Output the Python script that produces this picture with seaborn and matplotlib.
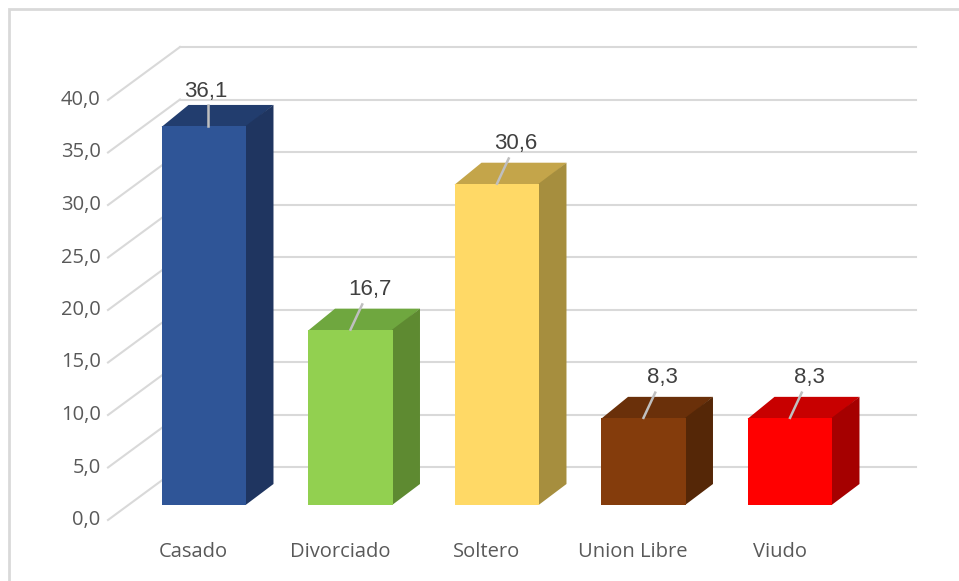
import numpy as np
import pandas as pd
import matplotlib.pyplot as plt
import seaborn as sns
from matplotlib.patches import Polygon, Rectangle

# datos
categorias = ["Casado", "Divorciado", "Soltero", "Union Libre", "Viudo"]
valores = [36.1, 16.7, 30.6, 8.3, 8.3]
etiquetas = ["36,1", "16,7", "30,6", "8,3", "8,3"]
ticks_y = [0, 5, 10, 15, 20, 25, 30, 35, 40]
ticks_lbl = ["0,0", "5,0", "10,0", "15,0", "20,0", "25,0", "30,0", "35,0", "40,0"]

# colores: frente, lado, tapa
frente = ["#2F5597", "#92D050", "#FFD966", "#843C0C", "#FF0000"]
lado = ["#1F3560", "#5E8A31", "#A68E3E", "#552707", "#A50000"]
tapa = ["#223D6E", "#6FA73F", "#C4A54A", "#6A300A", "#C80000"]

df = pd.DataFrame({"cat": categorias, "val": valores})

fig = plt.figure(figsize=(9.59, 5.81), dpi=100)
ax = fig.add_axes([0, 0, 1, 1])

# escala: 146.5 px por categoria, 10.5 px por unidad
px_x = 146.5
px_y = 10.5
ancho = 0.58
prof_x = 27 / px_x
prof_y = 21 / px_y

sns.barplot(data=df, x="cat", y="val", hue="cat", palette=frente, width=ancho,
            saturation=1, legend=False, ax=ax, zorder=3, linewidth=0)

# pared del fondo y lineas diagonales
pared_x0 = (108 - 204) / px_x
pared_x1 = (180 - 204) / px_x
pared_x2 = (916 - 204) / px_x
frente_off = -15 / px_y
fondo_off = 38 / px_y
gris = "#D9D9D9"
for t, lbl in zip(ticks_y, ticks_lbl):
    ax.plot([pared_x1, pared_x2], [t + fondo_off, t + fondo_off], color=gris, lw=1.5, zorder=1)
    ax.plot([pared_x0, pared_x1], [t + frente_off, t + fondo_off], color=gris, lw=1.5, zorder=1)
    ax.text(pared_x0 - 0.05, t + frente_off, lbl, ha="right", va="center",
            fontsize=14.5, color="#595959", family="Open Sans")

# caras 3D de cada barra
eps = 0.006
for i, v in enumerate(valores):
    x0 = i - ancho / 2
    x1 = i + ancho / 2
    ax.add_patch(Polygon([(x1 - eps, 0), (x1 + prof_x, prof_y), (x1 + prof_x, v + prof_y), (x1 - eps, v)],
                         closed=True, facecolor=lado[i], edgecolor="none", zorder=2.9))
    ax.add_patch(Polygon([(x0, v - 0.1), (x0 + prof_x, v + prof_y), (x1 + prof_x, v + prof_y), (x1, v - 0.1)],
                         closed=True, facecolor=tapa[i], edgecolor="none", zorder=2.8))
    # etiqueta y linea guia
    lx = i + 0.13
    ly = v + 3.8
    if ly > 39.5:
        lx, ly = i + 0.01, 39.4
        ax.plot([i + 0.03, i + 0.03], [v, v + prof_y], color="#BFBFBF", lw=1.8, zorder=4)
    else:
        ax.plot([i, lx - 0.05], [v, ly - 1.4], color="#BFBFBF", lw=1.8, zorder=4)
    ax.text(lx, ly, etiquetas[i], ha="center", va="center", fontsize=16,
            color="#404040", family="Liberation Sans", zorder=5)
    ax.text(i - 0.07, -47 / px_y, categorias[i], ha="center", va="center",
            fontsize=14.5, color="#595959", family="Open Sans")

ax.set_xlim(-204 / px_x, (959 - 204) / px_x)
ax.set_ylim((505 - 581) / px_y, 505 / px_y)
ax.axis("off")

# marco exterior
fig.patches.append(Rectangle((9 / 959, -0.1), 1.2, 1 - 9 / 581 + 0.1, transform=fig.transFigure,
                             fill=False, edgecolor=gris, lw=2, zorder=0))

fig.savefig("out.png", dpi=100, facecolor="white")
